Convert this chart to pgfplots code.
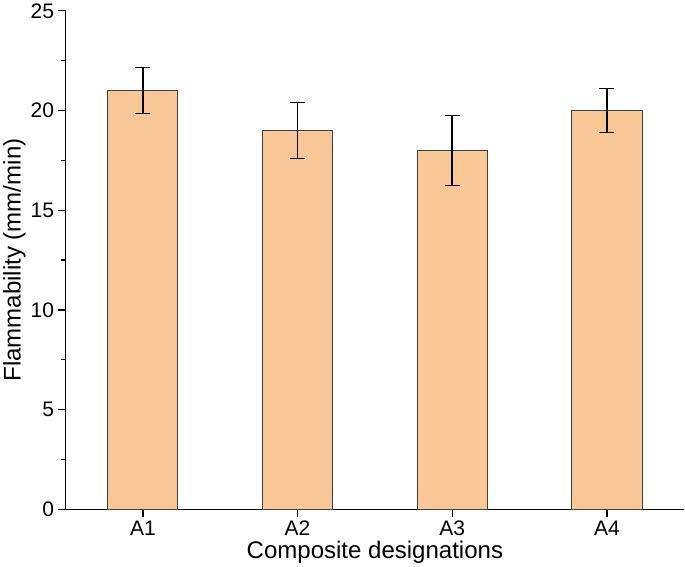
\documentclass[border=0pt]{standalone}
\usepackage{fontspec}
\setmainfont{Liberation Sans}
\usepackage{pgfplots}
\pgfplotsset{compat=1.18}
\definecolor{barfill}{RGB}{250,200,150}

\begin{document}
\begin{tikzpicture}
\begin{axis}[
    scale only axis,
    width=618pt, height=498pt,
    xmin=0.5, xmax=4.5,
    ymin=0, ymax=25,
    axis x line=bottom, axis y line=left,
    axis line style={-, line width=1.5pt},
    xtick={1,2,3,4},
    xticklabels={A1,A2,A3,A4},
    ytick={0,5,10,15,20,25},
    minor y tick num=1,
    tick align=outside,
    major tick length=8pt,
    minor tick length=5pt,
    every tick/.style={black, line width=1.3pt},
    tick label style={font=\fontsize{21}{24}\selectfont},
    /pgf/number format/assume math mode=true,
    xlabel={Composite designations},
    ylabel={Flammability (mm/min)},
    label style={font=\fontsize{24}{28}\selectfont},
    xlabel style={yshift=2pt},
    ylabel style={yshift=-2pt},
]
\addplot[ybar, bar width=70pt, fill=barfill, draw=black!75, line width=0.9pt,
    error bars/.cd, y dir=both, y explicit,
    error bar style={line width=1.5pt, black},
    error mark options={rotate=90, mark size=7.5pt, line width=1.5pt, black}]
coordinates {
    (1,21) +- (0,1.15)
    (2,19) +- (0,1.40)
    (3,18) +- (0,1.75)
    (4,20) +- (0,1.10)
};
\end{axis}
\end{tikzpicture}
\end{document}
